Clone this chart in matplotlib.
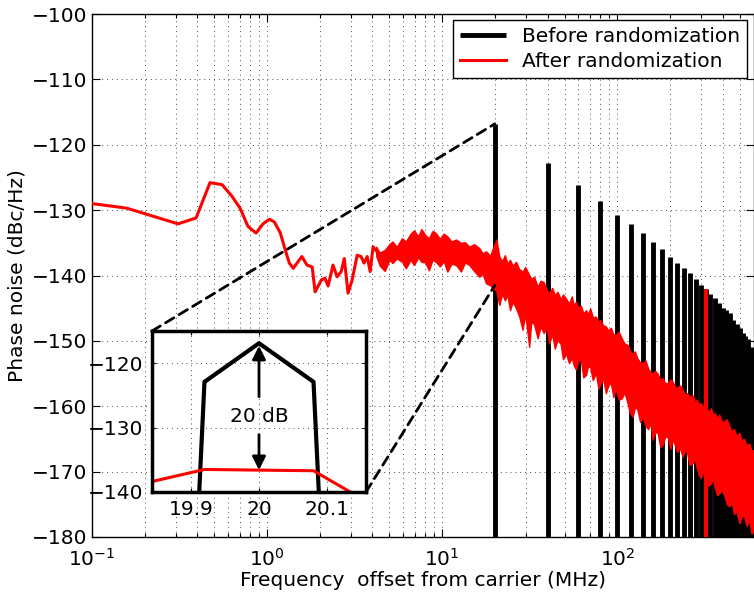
import numpy as np
import matplotlib
matplotlib.use('Agg')
import matplotlib.pyplot as plt
from matplotlib.patches import ConnectionPatch

plt.rcParams['font.family'] = ['DejaVu Sans']
plt.rcParams['font.size'] = 14.5

# before randomization: spurs at multiples of 20 MHz (MHz, dBc/Hz)
spur_freq = [20, 40, 60, 80, 100, 120, 140, 160, 180, 200, 220, 240, 260, 280, 300,
             320, 340, 360, 380, 400, 420, 440, 460, 480, 500, 520, 540, 560, 580, 600]
spur_level = [-116.8, -122.8, -126.2, -128.6, -130.7, -132.1, -133.5, -134.9, -136.0, -137.1,
              -138.1, -138.8, -139.6, -140.5, -141.4, -142.0, -142.8, -143.4, -144.2, -144.9,
              -145.3, -145.7, -146.8, -147.4, -148.0, -148.8, -149.3, -149.7, -150.9, -151.5]

# after randomization, low offsets
red_freq = [0.1, 0.158, 0.31, 0.393, 0.472, 0.553, 0.631, 0.701, 0.778, 0.865, 0.948, 1.03,
            1.10, 1.19, 1.27, 1.34, 1.41, 1.58, 1.69, 1.81, 1.88, 2.04, 2.14, 2.23, 2.38,
            2.51, 2.65, 2.76, 2.90, 3.06, 3.27, 3.44, 3.58, 3.73, 3.88, 4.03, 4.31]
red_level = [-129.0, -129.7, -132.1, -131.2, -125.8, -126.1, -127.9, -129.7, -132.5, -133.5,
             -132.1, -131.4, -131.8, -133.5, -136.1, -138.1, -138.9, -137.1, -138.4, -138.7,
             -142.5, -140.7, -140.4, -141.6, -138.4, -140.2, -139.4, -137.4, -142.7, -140.7,
             -136.9, -137.1, -138.1, -137.1, -139.4, -135.6, -136.6]

# after randomization, dense part: upper / lower edge of the noisy trace
band_freq = [4.2, 4.4, 4.7, 5.0, 5.2, 5.5, 5.9, 6.2, 6.6, 6.9,
             7.3, 7.6, 8.0, 8.4, 8.8, 9.2, 9.7, 10.2, 10.7, 11.3,
             12.0, 12.8, 13.5, 14.3, 15.2, 16.3, 17.0, 17.8, 18.8, 19.7,
             20.4, 21.2, 22.0, 22.8, 23.6, 24.4, 25.3, 26.4, 27.5, 28.8,
             29.8, 31.4, 32.3, 33.5, 35.1, 36.5, 38.0, 39.5, 40.8, 42.5,
             44.0, 45.6, 47.5, 49.0, 50.9, 53.0, 55.0, 56.5, 58.1, 60.0,
             62.0, 64.0, 66.3, 68.0, 70.0, 72.5, 75.5, 78.0, 80.0, 83.0,
             86.1, 89.0, 92.0, 95.0, 98.2, 102, 106, 110, 114.5, 118,
             122.5, 126, 130, 135, 139.7, 145, 150, 155, 159, 165,
             170, 176, 181.6, 188, 195, 201, 207, 214, 220, 228,
             236, 243, 250, 259, 269, 277, 285, 293, 300, 310,
             320, 332, 343, 352, 360, 372, 383, 396, 410, 423,
             437, 450, 465, 480, 498, 513, 530, 548, 568, 585, 600]
band_hi = [-135.6, -136.5, -136.1, -135.2, -134.8, -135.6, -134.3, -134.8, -133.6, -133.1,
           -134.0, -132.9, -133.8, -134.3, -133.2, -133.5, -134.4, -133.6, -134.0, -134.8,
           -134.5, -135.0, -134.9, -135.6, -135.2, -135.8, -136.6, -136.3, -137.0, -135.5,
           -134.5, -137.1, -137.8, -136.9, -138.2, -137.6, -138.5, -137.9, -139.0, -139.4,
           -138.7, -139.9, -140.5, -140.2, -141.7, -140.8, -141.0, -142.2, -142.7, -141.9,
           -143.0, -142.5, -143.6, -142.9, -143.5, -144.3, -143.2, -144.6, -144.0, -145.1,
           -144.6, -145.8, -145.3, -146.0, -145.0, -146.4, -146.3, -147.2, -146.8, -147.6,
           -147.8, -148.4, -148.0, -149.0, -149.1, -148.6, -149.6, -150.4, -150.6, -151.5,
           -152.0, -151.6, -152.6, -153.3, -153.4, -153.0, -154.2, -154.8, -155.0, -154.6,
           -155.0, -155.9, -155.7, -156.5, -156.4, -155.9, -156.2, -157.1, -157.2, -156.8,
           -157.5, -158.2, -158.0, -158.6, -158.3, -159.3, -159.0, -159.8, -159.5, -160.2,
           -160.0, -160.9, -160.3, -161.3, -161.0, -161.8, -161.3, -162.4, -162.3, -162.0,
           -163.1, -163.8, -163.5, -164.6, -164.1, -165.2, -165.0, -166.0, -165.7, -166.9, -166.7]
band_lo = [-137.0, -138.5, -139.3, -137.6, -138.1, -137.4, -137.9, -138.9, -137.6, -138.4,
           -137.2, -137.9, -138.0, -139.2, -137.6, -137.9, -138.6, -137.8, -139.4, -138.2,
           -138.4, -139.4, -138.0, -138.4, -139.3, -140.2, -139.7, -141.2, -141.5, -142.0,
           -142.4, -144.5, -142.8, -143.8, -143.0, -145.3, -144.0, -145.0, -146.2, -148.3,
           -145.8, -150.9, -147.0, -147.5, -149.6, -147.8, -148.8, -147.9, -150.4, -149.0,
           -151.2, -149.8, -150.5, -152.8, -151.9, -153.4, -152.6, -153.8, -154.4, -152.9,
           -153.0, -155.6, -155.2, -153.9, -154.0, -156.0, -154.9, -157.3, -156.6, -155.8,
           -158.0, -156.7, -156.5, -158.6, -157.2, -159.0, -158.8, -157.9, -159.5, -161.0,
           -161.6, -160.2, -160.4, -162.4, -161.6, -163.0, -163.5, -162.6, -165.1, -164.0,
           -164.0, -166.2, -165.9, -164.6, -164.8, -166.5, -165.1, -166.0, -167.0, -166.4,
           -167.7, -166.8, -167.0, -169.0, -168.7, -168.0, -169.5, -170.5, -171.0, -169.8,
           -170.6, -172.2, -171.8, -171.0, -172.4, -173.6, -173.3, -172.7, -173.8, -175.0,
           -175.3, -174.6, -176.5, -176.0, -177.9, -176.9, -176.8, -178.3, -177.4, -179.5, -178.9]

# leftover spur in the randomized spectrum
red_spur_freq = [320]
red_spur_level = [-142.0]

# inset: zoom around the 20 MHz spur
zoom_black_f = [19.84, 19.92, 20.0, 20.08, 20.16]
zoom_black_db = [-300, -122.9, -116.9, -122.9, -300]
zoom_red_f = [19.76, 19.92, 20.08, 20.24]
zoom_red_db = [-140.4, -136.5, -136.7, -146.5]

W, H = 754, 600
fig = plt.figure(figsize=(W / 100, H / 100), dpi=100)
ax = fig.add_axes([92 / W, 1 - 537 / H, (753.5 - 92) / W, (537 - 14) / H])

before = ax.vlines(spur_freq, -200, spur_level, color='k', lw=3.5, zorder=2,
                   label='Before randomization')
after, = ax.plot(red_freq, red_level, color='r', lw=2.2, zorder=3, label='After randomization')
ax.fill_between(band_freq, band_lo, band_hi, color='r', lw=1, zorder=3)
ax.vlines(red_spur_freq, -200, red_spur_level, color='r', lw=2.8, zorder=3)

ax.set_xscale('log')
ax.set_xlim(0.1, 600)
ax.set_ylim(-180, -100)
ax.set_yticks(np.arange(-180, -99, 10))
dots = (0, (1, 4))
ax.grid(True, which='major', linestyle=dots, color='0.3', lw=0.7)
ax.grid(True, which='minor', axis='x', linestyle=dots, color='0.3', lw=0.7)
ax.tick_params(which='both', direction='in', top=True, right=True, width=0.8)
ax.tick_params(which='major', length=6)
ax.tick_params(which='minor', length=3)
ax.tick_params(axis='x', which='major', pad=8)
for s in ax.spines.values():
    s.set_linewidth(1.0)
ax.set_xlabel('Frequency  offset from carrier (MHz)', labelpad=1)
ax.set_ylabel('Phase noise (dBc/Hz)', labelpad=4)

leg = ax.legend(handles=[before, after], loc='upper right', fancybox=False,
                edgecolor='k', framealpha=1, borderaxespad=0.3, handlelength=2.3,
                handletextpad=0.8, labelspacing=0.3, borderpad=0.35)
leg.get_frame().set_linewidth(1.0)

# inset
ax_in = fig.add_axes([152 / W, 1 - 492 / H, 214 / W, 161 / H])
ax_in.plot(zoom_black_f, zoom_black_db, color='k', lw=3)
ax_in.plot(zoom_red_f, zoom_red_db, color='r', lw=2.2)
ax_in.set_xlim(19.843, 20.157)
ax_in.set_ylim(-140, -115)
ax_in.set_xticks([19.9, 20.0, 20.1])
ax_in.set_xticklabels(['19.9', '20', '20.1'])
ax_in.set_yticks([-140, -130, -120])
ax_in.grid(True, linestyle=dots, color='0.3', lw=0.7)
ax_in.tick_params(direction='in', top=True, right=True, length=3, pad=6)
for s in ax_in.spines.values():
    s.set_linewidth(2.5)

arrow = dict(arrowstyle='-|>', color='k', lw=2, mutation_scale=20, shrinkA=0, shrinkB=0)
ax_in.annotate('', xy=(20.0, -117.3), xytext=(20.0, -125.2), arrowprops=arrow)
ax_in.annotate('', xy=(20.0, -136.6), xytext=(20.0, -131.1), arrowprops=arrow)
ax_in.text(20.0, -128.2, '20 dB', ha='center', va='center')

# dashed zoom lines
for a_xy, b_xy in [((0, 1), (20, -116.8)), ((1, 0), (20, -141.5))]:
    con = ConnectionPatch(xyA=a_xy, coordsA=ax_in.transAxes, xyB=b_xy, coordsB=ax.transData,
                          color='k', lw=2, linestyle=(0, (3.5, 2.2)))
    fig.add_artist(con)

fig.savefig('out.png', dpi=100)
